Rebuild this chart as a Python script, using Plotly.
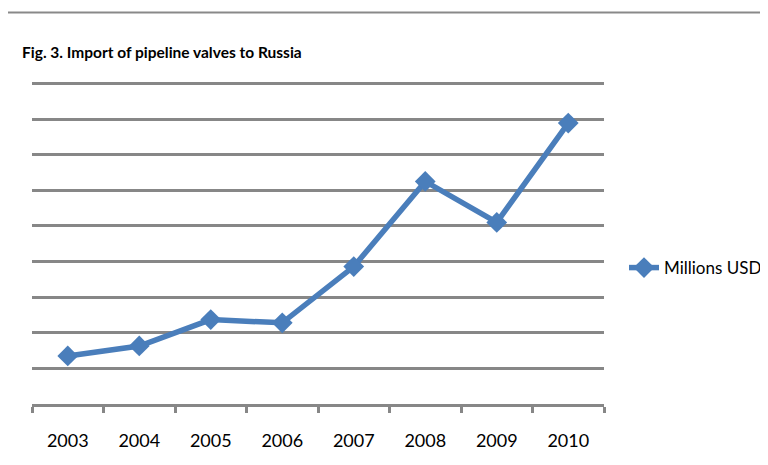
import plotly.graph_objects as go

years = ["2003", "2004", "2005", "2006", "2007", "2008", "2009", "2010"]
values = [135, 163, 237, 228, 386, 625, 510, 789]
series_name = "Millions USD"
title_text = "Fig. 3. Import of pipeline valves to Russia"

# page body has an 8px margin; lay out in viewport pixel coordinates
OFF = 8
W, H = 768 - 2 * OFF, 465 - 2 * OFF
PLOT_LEFT, PLOT_RIGHT = 32, 604
Y_TOP_GRID, Y_AXIS = 83.5, 404
Y_MAX = 900
Y_RANGE_TOP = 910

px_per_unit = (Y_AXIS - Y_TOP_GRID) / Y_MAX
plot_top = Y_AXIS - Y_RANGE_TOP * px_per_unit

L = PLOT_LEFT - OFF
T = plot_top - OFF
R = W - (PLOT_RIGHT - OFF)
B = H - (Y_AXIS - OFF)
pw = W - L - R
ph = H - T - B

def px_x(p):
    return (p - OFF - L) / pw

def px_y(p):
    return (H - B - (p - OFF)) / ph

font_family = "Lato, Carlito, 'Open Sans', sans-serif"

fig = go.Figure()
fig.add_trace(go.Scatter(
    x=list(range(len(years))), y=values, name=series_name,
    mode="lines+markers",
    line=dict(color="#4A7EBB", width=5.5),
    marker=dict(symbol="diamond", size=16, color="#4A7EBB"),
    showlegend=True,
))

fig.update_layout(
    width=W, height=H,
    margin=dict(l=L, r=R, t=T, b=B, autoexpand=False),
    paper_bgcolor="white", plot_bgcolor="white",
    font=dict(family=font_family, size=18, color="black"),
    title=dict(text="<b>" + title_text + "</b>", x=(22 - OFF) / W, xanchor="left",
               xref="container", y=1 - (53 - OFF) / H, yanchor="middle", yref="container",
               font=dict(size=15.5, family=font_family, color="black")),
    xaxis=dict(
        range=[-0.5, len(years) - 0.5],
        tickvals=list(range(len(years))), ticktext=years,
        ticks="", showgrid=False, zeroline=False,
        showline=True, linecolor="#878787", linewidth=3,
        ticklabelstandoff=18,
        tickfont=dict(size=18, family=font_family, color="black"),
        minor=dict(tick0=-0.5, dtick=1, ticks="outside", ticklen=6,
                   tickcolor="#878787", tickwidth=3, showgrid=False),
        fixedrange=True,
    ),
    yaxis=dict(
        range=[0, Y_RANGE_TOP], tick0=0, dtick=100, showticklabels=False,
        showgrid=True, gridcolor="#878787", gridwidth=2.5,
        zeroline=False, showline=False, ticks="",
    ),
    legend=dict(x=px_x(624), xanchor="left", y=px_y(268), yanchor="middle",
                font=dict(size=17, family=font_family, color="black"),
                bgcolor="rgba(0,0,0,0)"),
    shapes=[dict(type="rect", xref="paper", yref="paper",
                 x0=px_x(7), y0=px_y(500), x1=px_x(820), y1=px_y(12.5),
                 line=dict(color="#898989", width=2), fillcolor="rgba(0,0,0,0)",
                 layer="below")],
)

fig.write_html("out.html")
